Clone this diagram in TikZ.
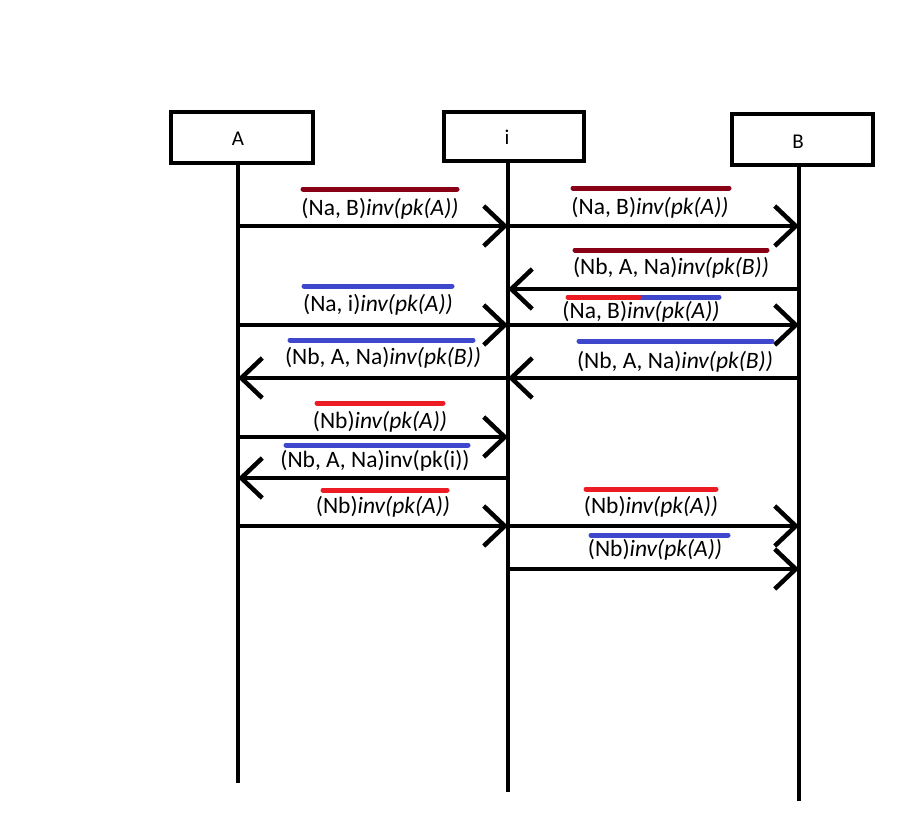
\documentclass[tikz,border=0pt]{standalone}
\usepackage{fontspec}
\setmainfont{Carlito}
\usetikzlibrary{arrows.meta}
\definecolor{dred}{HTML}{880015}
\definecolor{pred}{HTML}{ED1C24}
\definecolor{pblue}{HTML}{3F48CC}
\begin{document}
\begin{tikzpicture}[x=1pt,y=-1pt,
  lbox/.style={draw,line width=4.5pt,inner sep=0pt},
  boxlab/.style={font=\fontsize{21}{25}\selectfont,inner sep=0pt},
  msg/.style={line width=4.5pt,-{Straight Barb[length=21pt,width=40pt]}},
  lab/.style={font=\fontsize{23.5}{28}\selectfont,inner sep=0pt},
  ov/.style={line width=5pt,line cap=round},
  life/.style={line width=4.5pt}]
\useasboundingbox[fill=white] (0,0) rectangle (908,833);
% boxes
\node[lbox,minimum width=142pt,minimum height=51pt] (Abox) at (242,137.5) {};
\node[lbox,minimum width=140pt,minimum height=49pt] (ibox) at (514,136.5) {};
\node[lbox,minimum width=141pt,minimum height=51pt] (Bbox) at (802.5,139.5) {};
\node[boxlab] (Alab) at (238,139) {A};
\node[boxlab] (ilab) at (507,137) {i};
\node[boxlab] (Blab) at (798,142) {B};
% lifelines
\coordinate (Aend) at (238,783);
\coordinate (iend) at (508,792);
\coordinate (Bend) at (799,801);
\draw[life] (Abox.south -| Aend) -- (Aend);
\draw[life] (ibox.south -| iend) -- (iend);
\draw[life] (Bbox.south -| Bend) -- (Bend);
% message points
\foreach \n/\y in {1/226,2/289,3/325,4/378,5/437,6/478,7/526,8/569}{
  \coordinate (A\n) at (238,\y);
  \coordinate (i\n) at (508,\y);
  \coordinate (B\n) at (799,\y);
}
% messages
\draw[msg] (A1) -- (i1);
\draw[msg] (i1) -- (B1);
\draw[msg] (B2) -- (i2);
\draw[msg] (A3) -- (i3);
\draw[msg] (i3) -- (B3);
\draw[msg] (B4) -- (i4);
\draw[msg] (i4) -- (A4);
\draw[msg] (A5) -- (i5);
\draw[msg] (i6) -- (A6);
\draw[msg] (A7) -- (i7);
\draw[msg] (i7) -- (B7);
\draw[msg] (i8) -- (B8);
% labels
\node[lab] (l1) at (380,209) {(Na, B)\textit{inv(pk(A))}};
\node[lab] (l2) at (650,208) {(Na, B)\textit{inv(pk(A))}};
\node[lab] (l3) at (671,268) {(Nb, A, Na)\textit{inv(pk(B))}};
\node[lab] (l4) at (378,305) {(Na, i)\textit{inv(pk(A))}};
\node[lab] (l5) at (641,312) {(Na, B)\textit{inv(pk(A))}};
\node[lab] (l6) at (675,362) {(Nb, A, Na)\textit{inv(pk(B))}};
\node[lab] (l7) at (383,358) {(Nb, A, Na)\textit{inv(pk(B))}};
\node[lab] (l8) at (380,422) {(Nb)\textit{inv(pk(A))}};
\node[lab] (l9) at (375,461) {(Nb, A, Na)inv(pk(i))};
\node[lab] (l10) at (383,507) {(Nb)\textit{inv(pk(A))}};
\node[lab] (l11) at (651,507) {(Nb)\textit{inv(pk(A))}};
\node[lab] (l12) at (655,550) {(Nb)\textit{inv(pk(A))}};
% overlines
\draw[ov,dred] (303,189) -- (457,189);
\draw[ov,dred] (573,188) -- (729,188);
\draw[ov,dred] (575,250) -- (767,250);
\draw[ov,pblue] (304,286) -- (452,286);
\draw[ov,pblue] (639,297) -- (719,297);
\draw[ov,pred] (568,297) -- (639,297);
\draw[ov,pblue] (579,341) -- (772,341);
\draw[ov,pblue] (290,340) -- (473,340);
\draw[ov,pred] (317,403) -- (443,403);
\draw[ov,pblue] (286,445) -- (468,445);
\draw[ov,pred] (323,490) -- (447,490);
\draw[ov,pred] (586,489) -- (716,489);
\draw[ov,pblue] (591,535) -- (728,535);
\end{tikzpicture}
\end{document}
